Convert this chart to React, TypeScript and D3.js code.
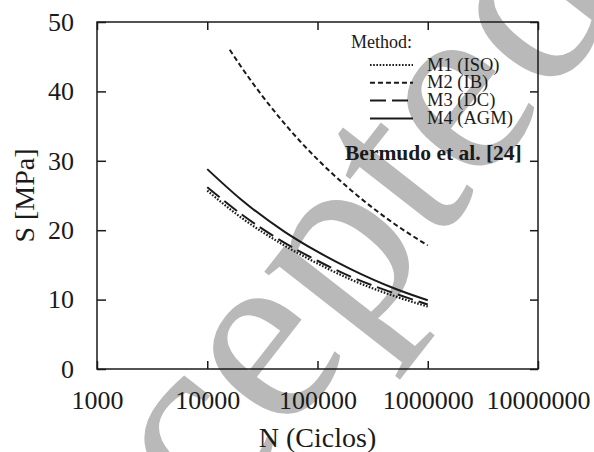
import * as d3 from "d3";
import React, { useEffect, useRef } from "react";

// N (cycles) where each curve was read
const cyclesM = [10000, 20000, 50000, 100000, 200000, 500000, 1000000];
const cyclesIB = [16000, 20000, 50000, 100000, 200000, 500000, 1000000];

// S [MPa]
const m1Iso = [25.7, 21.9, 17.8, 15.2, 12.9, 10.5, 9.0];
const m2Ib = [46.0, 43.7, 35.4, 30.2, 25.8, 20.9, 17.8];
const m3Dc = [26.2, 22.4, 18.2, 15.6, 13.3, 10.9, 9.3];
const m4Agm = [28.8, 24.5, 19.8, 16.9, 14.4, 11.6, 9.9];

const xTicks = [1000, 10000, 100000, 1000000, 10000000];
const yTicks = [0, 10, 20, 30, 40, 50];

const legendNames = ["M1 (ISO)", "M2 (IB)", "M3 (DC)", "M4 (AGM)"];
const dashes = ["1.6,1.6", "5,3", "16,6", null];

const W = 594;
const H = 452;
const margin = { top: 22, right: 56, bottom: 83, left: 97 };

const App = () => {
  const svgRef = useRef<SVGSVGElement>(null);

  useEffect(() => {
    const svg = d3.select(svgRef.current);
    svg.selectAll("*").remove();

    const serif = "'Liberation Serif', 'Times New Roman', serif";
    const ink = "#1a1a1a";

    const x = d3
      .scaleLog()
      .domain([1000, 10000000])
      .range([margin.left, W - margin.right]);
    const y = d3
      .scaleLinear()
      .domain([0, 50])
      .range([H - margin.bottom, margin.top]);

    // watermark
    svg
      .append("text")
      .attr("transform", "translate(283,348) rotate(-52)")
      .attr("text-anchor", "middle")
      .attr("dy", "0.22em")
      .attr("font-family", serif)
      .attr("font-size", 258)
      .attr("fill", "#b9b9b9")
      .text("Accepted");

    const series = [
      { n: cyclesM, s: m1Iso },
      { n: cyclesIB, s: m2Ib },
      { n: cyclesM, s: m3Dc },
      { n: cyclesM, s: m4Agm },
    ];

    const line = d3
      .line<[number, number]>()
      .x((d) => x(d[0]))
      .y((d) => y(d[1]))
      .curve(d3.curveMonotoneX);

    series.forEach((sr, i) => {
      const pts = sr.n.map((n, j) => [n, sr.s[j]] as [number, number]);
      svg
        .append("path")
        .attr("d", line(pts))
        .attr("fill", "none")
        .attr("stroke", ink)
        .attr("stroke-width", i === 0 ? 2.2 : 2)
        .attr("stroke-dasharray", dashes[i]);
    });

    // frame
    svg
      .append("rect")
      .attr("x", margin.left)
      .attr("y", margin.top)
      .attr("width", W - margin.right - margin.left)
      .attr("height", H - margin.bottom - margin.top)
      .attr("fill", "none")
      .attr("stroke", ink)
      .attr("stroke-width", 1.5);

    const styleAxis = (g) => {
      g.select(".domain").remove();
      g.selectAll("line").attr("stroke", ink).attr("stroke-width", 1.5);
      g.selectAll("text")
        .attr("font-family", serif)
        .attr("font-size", 26)
        .attr("fill", ink);
    };

    svg
      .append("g")
      .attr("transform", `translate(0,${H - margin.bottom})`)
      .call(
        d3
          .axisBottom(x)
          .tickValues(xTicks)
          .tickFormat(d3.format("d"))
          .tickSizeInner(-8)
          .tickSizeOuter(0)
          .tickPadding(22)
      )
      .call(styleAxis);

    svg
      .append("g")
      .attr("transform", `translate(0,${margin.top})`)
      .call(d3.axisTop(x).tickValues(xTicks).tickFormat(() => "").tickSizeInner(-8).tickSizeOuter(0))
      .call(styleAxis);

    svg
      .append("g")
      .attr("transform", `translate(${margin.left},0)`)
      .call(
        d3
          .axisLeft(y)
          .tickValues(yTicks)
          .tickSizeInner(-9)
          .tickSizeOuter(0)
          .tickPadding(23)
      )
      .call(styleAxis);

    svg
      .append("g")
      .attr("transform", `translate(${W - margin.right},0)`)
      .call(d3.axisRight(y).tickValues(yTicks).tickFormat(() => "").tickSizeInner(-8).tickSizeOuter(0))
      .call(styleAxis);

    // axis titles
    svg
      .append("text")
      .attr("x", (margin.left + W - margin.right) / 2)
      .attr("y", 447)
      .attr("text-anchor", "middle")
      .attr("font-family", serif)
      .attr("font-size", 28)
      .attr("fill", ink)
      .text("N (Ciclos)");

    svg
      .append("text")
      .attr("transform", `translate(34,${(margin.top + H - margin.bottom) / 2}) rotate(-90)`)
      .attr("text-anchor", "middle")
      .attr("font-family", serif)
      .attr("font-size", 28)
      .attr("fill", ink)
      .text("S [MPa]");

    // legend
    const lg = svg.append("g").attr("font-family", serif).attr("fill", ink);
    lg.append("text").attr("x", 351).attr("y", 48).attr("font-size", 18).text("Method:");
    legendNames.forEach((name, i) => {
      const by = 70.5 + i * 17.8;
      lg.append("line")
        .attr("x1", 370)
        .attr("x2", 413)
        .attr("y1", by - 5.5)
        .attr("y2", by - 5.5)
        .attr("stroke", ink)
        .attr("stroke-width", i === 0 ? 2.2 : 2)
        .attr("stroke-dasharray", dashes[i]);
      lg.append("text").attr("x", 427).attr("y", by).attr("font-size", 18.5).text(name);
    });
    lg.append("text")
      .attr("x", 345)
      .attr("y", 160)
      .attr("font-size", 21.5)
      .attr("font-weight", "bold")
      .text("Bermudo et al. [24]");
  }, []);

  return (
    <svg
      ref={svgRef}
      width={W}
      height={H}
      viewBox={`0 0 ${W} ${H}`}
      style={{ position: "absolute", left: 0, top: 0, background: "#fff" }}
    />
  );
};

export default App;
